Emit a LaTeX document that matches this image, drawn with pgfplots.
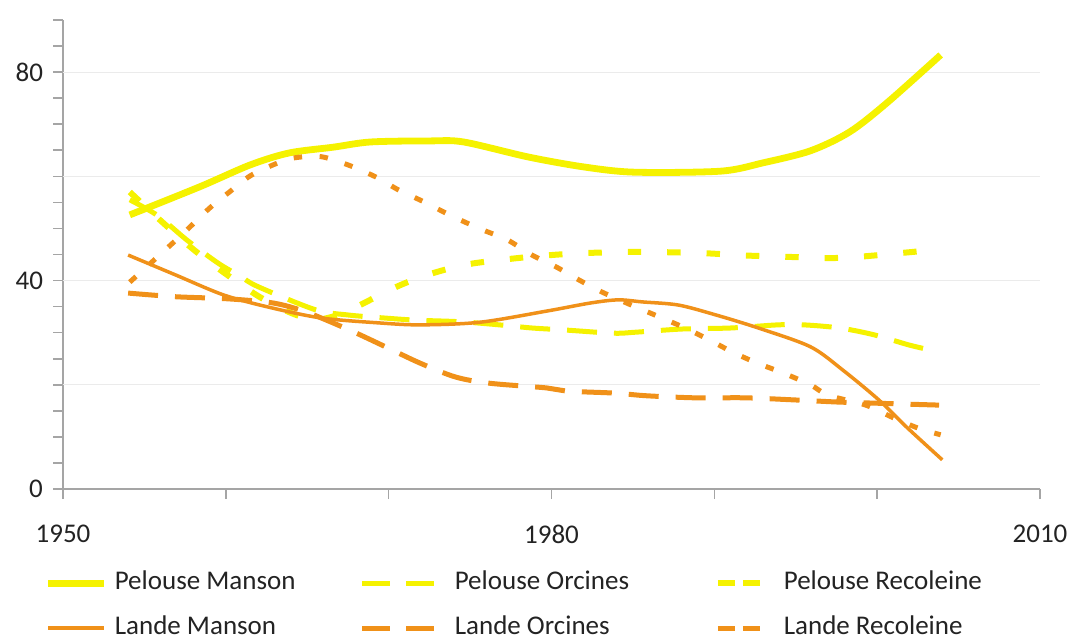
\documentclass[border=0pt]{standalone}
\usepackage{fontspec}
\setmainfont{Carlito}
\usepackage{pgfplots}
\pgfplotsset{compat=1.18}
\definecolor{pyel}{RGB}{245,242,0}
\definecolor{lor}{RGB}{240,145,25}
\definecolor{axgray}{RGB}{165,165,165}
\definecolor{gridgray}{RGB}{235,235,235}
\definecolor{txt}{RGB}{35,35,35}
\pgfplotsset{
  mansonleg/.style={legend image code/.code={\draw[##1] (0pt,0pt) -- (28pt,0pt);}},
  orcleg/.style={legend image code/.code={\draw[##1, dash pattern=on 14pt off 8pt] (0pt,0pt) -- (36pt,0pt);}},
  recleg/.style={legend image code/.code={\draw[##1, dash pattern=on 8.5pt off 4pt] (0pt,0pt) -- (21pt,0pt);}},
}
\begin{document}
\begin{tikzpicture}
\begin{axis}[
  scale only axis, width=488.5pt, height=234.5pt,
  xmin=1950, xmax=2010, ymin=0, ymax=90,
  axis lines*=left,
  axis line style={draw=axgray, line width=0.8pt},
  xtick={1950,1980,2010}, xticklabels={1950,1980,2010},
  minor xtick={1960,1970,1990,2000},
  ytick={0,40,80}, yticklabels={0,40,80},
  minor ytick={5,10,...,90},
  tick align=outside, major tick length=5pt, minor tick length=5pt,
  tick style={draw=axgray, line width=0.8pt},
  extra y ticks={20,40,60,80}, extra y tick labels={},
  extra y tick style={grid=major, major tick length=0pt},
  grid style={draw=gridgray, line width=0.6pt},
  tick label style={font=\fontsize{13.5}{15}\selectfont, text=txt},
  xticklabel style={yshift=-9.5pt},
  yticklabel style={xshift=-1.5pt},
  legend columns=3,
  legend cell align=left,
  legend style={at={(axis description cs:-0.0184,-0.174)}, anchor=north west,
    draw=none, fill=none, inner sep=0pt, outer sep=0pt, column sep=0pt, row sep=10pt,
    font=\fontsize{13.5}{15}\selectfont, text=txt,
    nodes={inner sep=0pt, text height=9.5pt, text depth=3pt}},
]
% Pelouse Manson
\addplot[pyel, line width=3.4pt, smooth, line join=round, mansonleg] coordinates {
(1954.1,52.6) (1958.4,58.0) (1961.5,62.2) (1963.9,64.5) (1966.6,65.6) (1968.9,66.6)
(1972.5,66.8) (1974.6,66.6) (1978.6,63.7) (1982.0,61.8) (1985.1,60.8) (1990.4,61.0)
(1993.0,62.6) (1995.9,64.9) (1998.3,68.5) (2000.6,74.1) (2003.9,83.3)};
\addlegendentry{\makebox[126pt][l]{\hspace*{3.5pt}Pelouse Manson}}
% Pelouse Orcines
\addplot[pyel, line width=2.5pt, smooth, dash pattern=on 15pt off 8.5pt, orcleg] coordinates {
(1954.1,55.5) (1955.8,52.5) (1957.6,47.8) (1959.5,43.4) (1960.9,40.8) (1962.0,38.8)
(1965.5,34.4) (1967.5,33.4) (1969.8,32.8) (1971.7,32.4) (1974.4,32.1) (1976.8,31.5)
(1978.8,30.9) (1980.9,30.5) (1983.8,29.9) (1985.2,30.1) (1988.0,30.7) (1991.0,30.9)
(1993.9,31.5) (1995.5,31.5) (1997.7,30.9) (1999.8,29.6) (2002.0,27.6) (2003.8,26.3)};
\addlegendentry{\makebox[139pt][l]{\hspace*{9pt}Pelouse Orcines}}
% Pelouse Recoleine
\addplot[pyel, line width=3pt, smooth, dash pattern=on 6.7pt off 13pt, recleg] coordinates {
(1954.1,57.0) (1956.0,51.5) (1958.0,46.0) (1959.9,41.5) (1962.0,37.0) (1964.0,33.8)
(1965.5,32.5) (1967.0,33.5) (1968.5,35.7) (1969.6,37.5) (1971.0,39.5) (1972.8,41.5)
(1975.0,43.2) (1978.5,44.5) (1981.5,45.2) (1985.0,45.5) (1989.0,45.3) (1992.0,44.8)
(1995.0,44.5) (1997.0,44.3) (1999.0,44.6) (2001.5,45.3) (2003.9,46.0)};
\addlegendentry{\hspace*{10.5pt}Pelouse Recoleine}
% Lande Manson
\addplot[lor, line width=1.75pt, smooth, line join=round, mansonleg] coordinates {
(1954.0,44.9) (1956.9,41.1) (1959.9,37.2) (1962.9,34.7) (1965.9,32.8) (1969.3,31.9)
(1971.9,31.5) (1975.6,32.0) (1979.8,34.2) (1982.4,35.7) (1984.1,36.3) (1985.6,35.9)
(1987.8,35.3) (1990.1,33.4) (1992.7,30.9) (1995.9,27.3) (1997.9,22.8) (2000.1,17.1)
(2001.8,11.9) (2004.0,5.6)};
\addlegendentry{\makebox[126pt][l]{\hspace*{3.5pt}Lande Manson}}
% Lande Orcines
\addplot[lor, line width=2.5pt, smooth, dash pattern=on 15pt off 8.5pt, orcleg] coordinates {
(1954.0,37.6) (1956.9,36.9) (1960.1,36.5) (1962.9,35.7) (1964.9,34.0) (1967.6,30.5)
(1969.8,27.3) (1971.9,24.2) (1974.1,21.5) (1976.2,20.3) (1979.7,19.4) (1980.9,18.8)
(1983.9,18.4) (1985.8,17.9) (1988.8,17.5) (1991.9,17.5) (1994.9,17.1) (1997.5,16.7)
(1999.6,16.5) (2003.8,16.1)};
\addlegendentry{\makebox[139pt][l]{\hspace*{9pt}Lande Orcines}}
% Lande Recoleine
\addplot[lor, line width=2.5pt, smooth, dash pattern=on 4.2pt off 8.8pt, recleg] coordinates {
(1954.1,39.7) (1956.6,46.8) (1957.8,50.3) (1959.0,53.9) (1960.3,57.2) (1961.5,60.1)
(1962.9,62.2) (1964.1,63.5) (1965.8,63.8) (1967.5,62.2) (1969.2,59.9) (1970.6,57.4)
(1972.1,55.2) (1974.0,52.2) (1975.8,49.7) (1977.3,47.8) (1978.8,44.9) (1980.3,42.6)
(1981.7,40.1) (1983.1,37.8) (1984.9,35.3) (1986.8,32.8) (1988.2,30.9) (1989.7,28.6)
(1991.1,26.3) (1992.6,24.2) (1994.2,22.3) (1995.9,20.0) (1997.0,18.0) (1999.3,16.1)
(2000.9,13.8) (2002.5,11.7) (2003.9,10.4)};
\addlegendentry{\hspace*{10.5pt}Lande Recoleine}
\end{axis}
\pgfresetboundingbox
\path[use as bounding box] (-31.5pt,-75pt) rectangle (503.5pt,244.5pt);
\end{tikzpicture}
\end{document}
